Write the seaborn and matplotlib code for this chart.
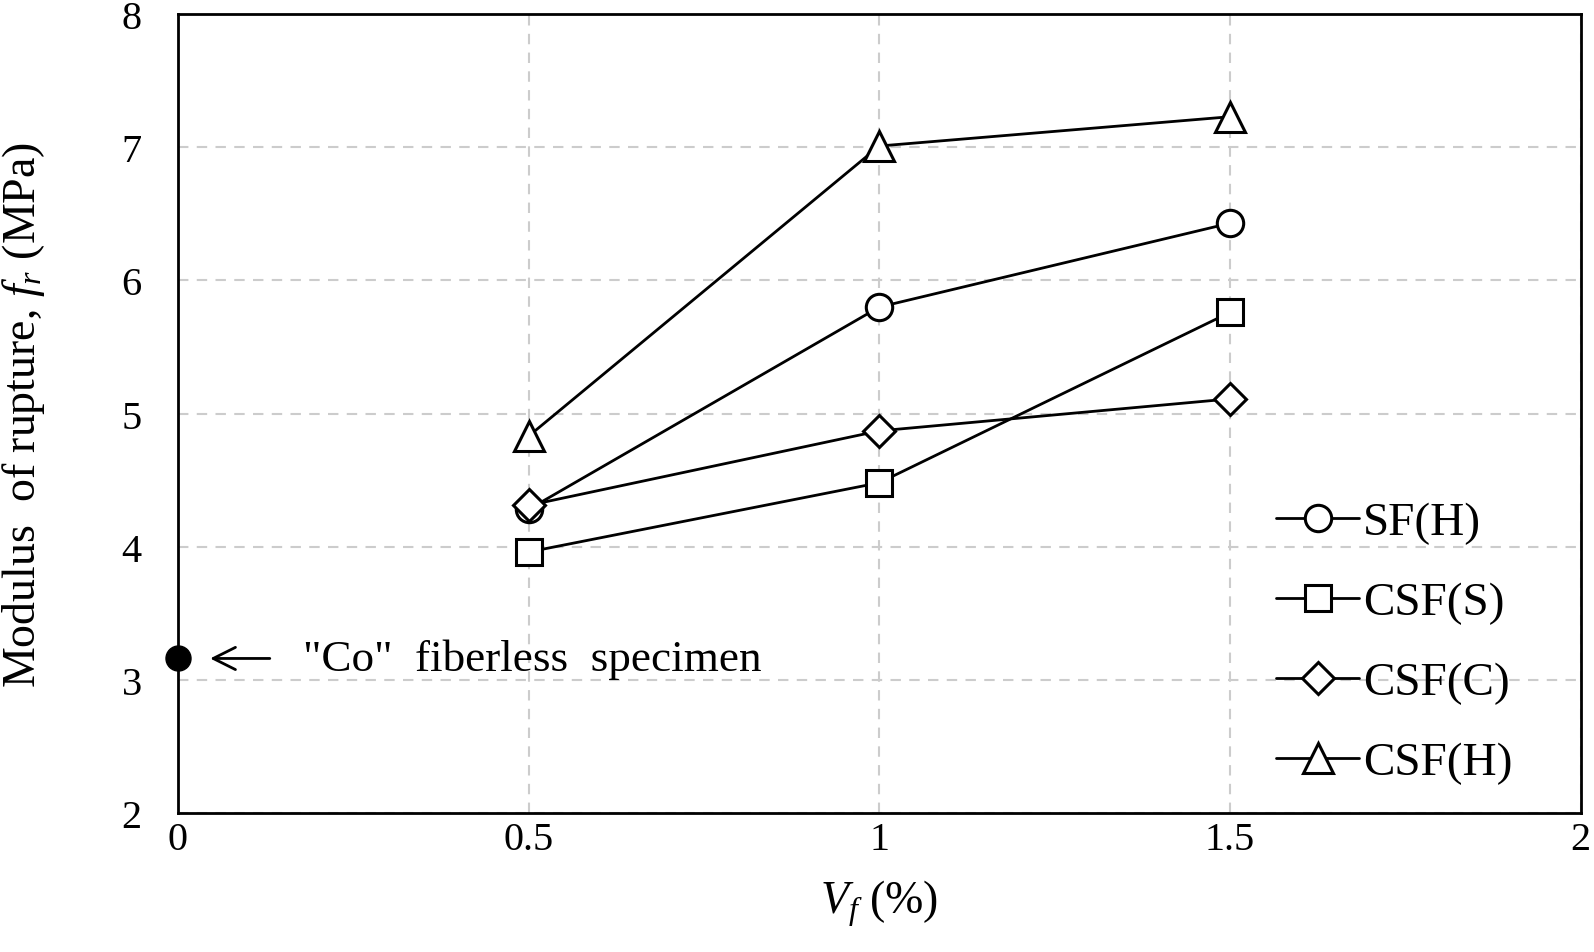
import matplotlib
matplotlib.use('Agg')
import matplotlib.pyplot as plt
import seaborn as sns
import pandas as pd
from matplotlib.lines import Line2D

# Data
vf = [0.5, 1.0, 1.5]
sf_h = [4.28, 5.80, 6.43]
csf_s = [3.96, 4.48, 5.76]
csf_c = [4.31, 4.87, 5.11]
csf_h = [4.83, 7.01, 7.23]
co_x = [0.0]
co_y = [3.16]

series_names = ['SF(H)', 'CSF(S)', 'CSF(C)', 'CSF(H)']
series_vals = [sf_h, csf_s, csf_c, csf_h]
series_markers = ['o', 's', 'D', '^']
marker_sizes = [19, 19, 16, 22]

sns.set_style('white')
plt.rcParams['font.family'] = ['Liberation Serif', 'DejaVu Serif']
plt.rcParams['mathtext.fontset'] = 'custom'
plt.rcParams['mathtext.rm'] = 'Liberation Serif'
plt.rcParams['mathtext.it'] = 'Liberation Serif:italic'
plt.rcParams['text.color'] = 'black'
plt.rcParams['axes.labelcolor'] = 'black'
plt.rcParams['xtick.color'] = 'black'
plt.rcParams['ytick.color'] = 'black'

fig = plt.figure(figsize=(15.94, 9.53), dpi=100)
ax = fig.add_axes([0.1116, 0.146, 0.88, 0.838])

for name, vals, mk, ms in zip(series_names, series_vals, series_markers, marker_sizes):
    df = pd.DataFrame({'vf': vf, 'fr': vals})
    sns.lineplot(data=df, x='vf', y='fr', ax=ax, color='black', lw=2,
                 marker=mk, markersize=ms, markerfacecolor='white',
                 markeredgecolor='black', markeredgewidth=2.2, zorder=3)

# fiberless control specimen
ax.plot(co_x, co_y, 'o', color='black', markersize=18, clip_on=False, zorder=5)
ax.annotate('', xy=(0.042, co_y[0]), xytext=(0.135, co_y[0]),
            arrowprops=dict(arrowstyle='->', lw=2, color='black', mutation_scale=40))
ax.text(0.178, co_y[0], '"Co"  fiberless  specimen', fontsize=32.5, va='center', ha='left')

ax.set_xlim(0, 2)
ax.set_ylim(2, 8)
ax.set_xticks([0, 0.5, 1, 1.5, 2])
ax.set_xticklabels(['0', '0.5', '1', '1.5', '2'])
ax.set_yticks([2, 3, 4, 5, 6, 7, 8])
ax.tick_params(axis='both', length=0, labelsize=29)
ax.tick_params(axis='x', pad=6)
ax.tick_params(axis='y', pad=26)
ax.grid(True, ls=(0, (5, 4)), color='#cccccc', lw=1.5, zorder=0)
ax.set_axisbelow(True)
for sp in ax.spines.values():
    sp.set_linewidth(2)
    sp.set_color('black')

ax.set_xlabel(r'$V_f$ (%)', fontsize=33, labelpad=14)
ax.set_ylabel(r'Modulus  of rupture, $f_r$ (MPa)', fontsize=33, labelpad=54)

handles = [Line2D([], [], color='black', lw=2, marker=mk, markersize=ms,
                  markerfacecolor='white', markeredgecolor='black', markeredgewidth=2.2)
           for mk, ms in zip(series_markers, marker_sizes)]
ax.legend(handles, series_names, loc='upper left', bbox_to_anchor=(0.783, 0.39),
          frameon=False, fontsize=34, handlelength=1.75, handletextpad=0.08,
          labelspacing=0.78, borderpad=0, borderaxespad=0)

fig.savefig('out.png', dpi=100)
